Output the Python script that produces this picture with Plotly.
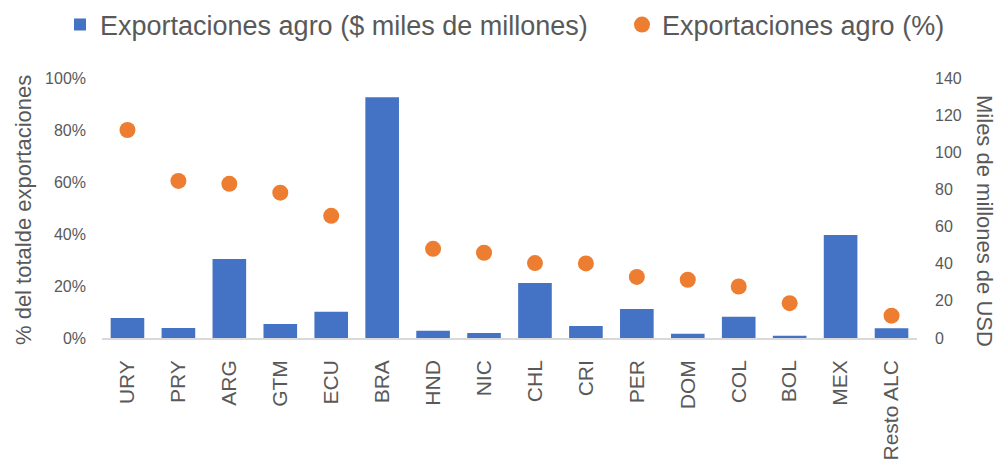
import plotly.graph_objects as go

categories = ["URY", "PRY", "ARG", "GTM", "ECU", "BRA", "HND", "NIC", "CHL", "CRI",
              "PER", "DOM", "COL", "BOL", "MEX", "Resto ALC"]
export_usd = [10.8, 5.4, 42.6, 7.5, 14.1, 129.6, 3.9, 2.7, 29.6, 6.5,
              15.6, 2.3, 11.5, 1.2, 55.4, 5.2]
export_pct = [0.80, 0.604, 0.593, 0.559, 0.47, 0.40, 0.343, 0.328, 0.288, 0.287,
              0.235, 0.224, 0.198, 0.134, 0.093, 0.086]

left_ticks = [0, 0.2, 0.4, 0.6, 0.8, 1.0]
right_ticks = [0, 20, 40, 60, 80, 100, 120, 140]

font_family = "Liberation Sans, Arial"
grey = "#595959"

fig = go.Figure()
fig.add_trace(go.Bar(
    x=categories, y=export_usd, yaxis="y2",
    name="Exportaciones agro ($ miles de millones)",
    marker=dict(color="#4472C4", line=dict(width=0)),
    legend="legend",
))
fig.add_trace(go.Scatter(
    x=categories, y=export_pct, yaxis="y",
    mode="markers", name="Exportaciones agro (%)",
    marker=dict(color="#ED7D31", size=16),
    legend="legend2",
))

legend_common = dict(orientation="h", xref="container", yref="container",
                     xanchor="left", yanchor="middle", itemwidth=30,
                     font=dict(size=27, color=grey), bgcolor="rgba(0,0,0,0)")

fig.update_layout(
    width=1004, height=464,
    margin=dict(l=94, r=95, t=70, b=134, autoexpand=False),
    paper_bgcolor="white", plot_bgcolor="white",
    font=dict(family=font_family, color=grey),
    bargap=0.34,
    showlegend=True,
    legend=dict(x=52 / 1004, y=1 - 17 / 464, **legend_common),
    legend2=dict(x=614 / 1004, y=1 - 17 / 464, **legend_common),
    xaxis=dict(tickangle=-90, tickfont=dict(size=21, color=grey),
               showline=True, linecolor="#d9d9d9", linewidth=1.5,
               showgrid=False, ticks="", range=[-0.5, 15.5], automargin=False,
               ticklabelstandoff=12),
    yaxis=dict(range=[0, 1.0], tickvals=left_ticks, tickformat=".0%",
               tickfont=dict(size=16, color=grey), showgrid=False,
               zeroline=False, ticks="", automargin=False, ticklabelstandoff=15),
    yaxis2=dict(range=[0, 140], tickvals=right_ticks, overlaying="y", side="right",
                tickfont=dict(size=16, color=grey), showgrid=False,
                zeroline=False, ticks="", automargin=False, ticklabelstandoff=17),
    annotations=[
        dict(text="% del totalde exportaciones", xref="paper", yref="paper",
             x=-0.097, xanchor="center", y=0.492, yanchor="middle",
             showarrow=False, textangle=-90, font=dict(size=22, color=grey)),
        dict(text="Miles de millones de USD", xref="paper", yref="paper",
             x=1.0834, xanchor="center", y=0.45, yanchor="middle",
             showarrow=False, textangle=90, font=dict(size=22, color=grey)),
    ],
)

fig.write_html("out.html")
